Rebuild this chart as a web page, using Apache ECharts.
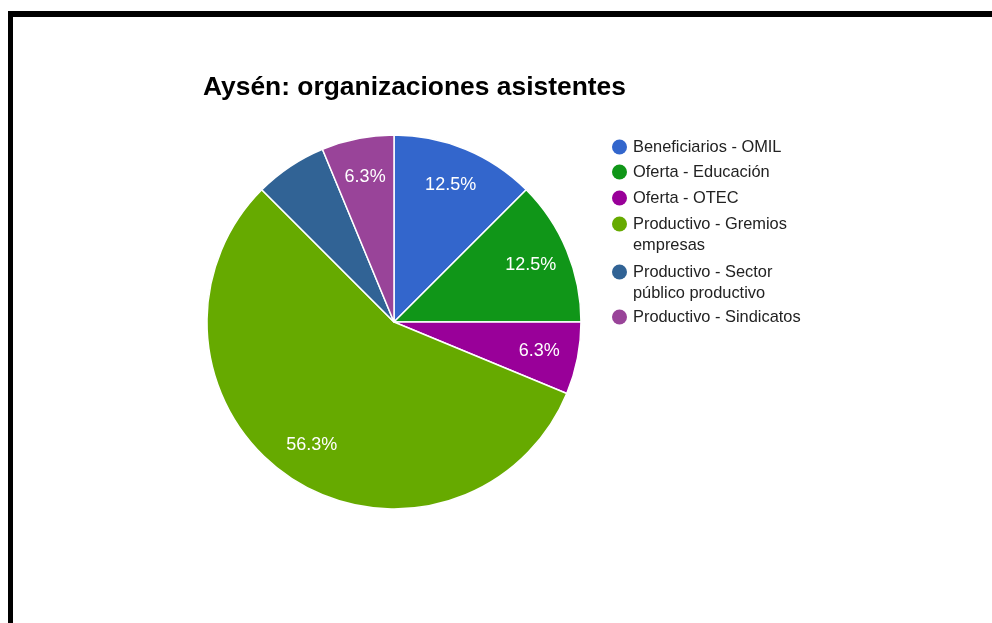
<!DOCTYPE html>
<html>
<head>
<meta charset="utf-8">
<script src="https://cdn.jsdelivr.net/npm/echarts@6/dist/echarts.min.js"></script>
<style>
  html, body { margin: 0; padding: 0; background: #fff; }
  #frame { position: absolute; left: 8px; top: 11px; width: 990px; height: 620px;
           border-top: 6px solid #000; border-left: 5px solid #000; box-sizing: border-box; }
  #chart { position: absolute; left: 0; top: 0; width: 992px; height: 623px; }
</style>
</head>
<body>
<div id="frame"></div>
<div id="chart"></div>
<script>
const titleText = 'Aysén: organizaciones asistentes';
const categories = [
  'Beneficiarios - OMIL',
  'Oferta - Educación',
  'Oferta - OTEC',
  'Productivo - Gremios empresas',
  'Productivo - Sector público productivo',
  'Productivo - Sindicatos'
];
const legendLines = [
  ['Beneficiarios - OMIL'],
  ['Oferta - Educación'],
  ['Oferta - OTEC'],
  ['Productivo - Gremios', 'empresas'],
  ['Productivo - Sector', 'público productivo'],
  ['Productivo - Sindicatos']
];
const counts = [2, 2, 1, 9, 1, 1];
const colors = ['#3366cc', '#109618', '#990099', '#66aa00', '#316395', '#994499'];
const showLabel = [true, true, true, true, false, true];

const total = counts.reduce((a, b) => a + b, 0);
const FONT = 'Arial, "Liberation Sans", sans-serif';

// legend layout (icon centre of the first line of each entry)
const legendCentres = [144, 169, 195, 221, 269, 314];
const LINE_H = 21;
const tallCirclePath = 'path://M0,7.5A7.5,7.5,0,1,1,15,7.5A7.5,7.5,0,1,1,0,7.5ZM7.5,36L7.5,36';

const legends = categories.map((name, i) => {
  const multi = legendLines[i].length > 1;
  return {
    orient: 'vertical',
    left: 612,
    top: legendCentres[i] - 7.5,
    padding: 0,
    itemWidth: 17,
    itemHeight: multi ? 36 : 15,
    icon: multi ? tallCirclePath : 'circle',
    selectedMode: false,
    itemStyle: { borderWidth: 0 },
    data: [name],
    formatter: () => legendLines[i].join('\n'),
    textStyle: { fontFamily: FONT, fontSize: 16.4, color: '#222', lineHeight: LINE_H }
  };
});

const chart = echarts.init(document.getElementById('chart'), null, { renderer: 'canvas' });
chart.setOption({
  backgroundColor: 'transparent',
  animation: false,
  color: colors,
  title: {
    text: titleText,
    left: 203,
    top: 75,
    padding: 0,
    textStyle: { fontFamily: FONT, fontSize: 26.4, fontWeight: 'bold', color: '#000' }
  },
  legend: legends,
  series: [
    {
      type: 'pie',
      center: [394, 322],
      radius: [0, 187],
      startAngle: 90,
      clockwise: true,
      label: { show: false },
      labelLine: { show: false },
      emphasis: { disabled: true },
      itemStyle: { borderColor: '#fff', borderWidth: 1.5 },
      data: categories.map((name, i) => ({ name, value: counts[i] }))
    },
    {
      type: 'pie',
      center: [394, 322],
      radius: [104, 186],
      startAngle: 90,
      clockwise: true,
      silent: true,
      legendHoverLink: false,
      emphasis: { disabled: true },
      itemStyle: { color: 'rgba(0,0,0,0)', borderWidth: 0 },
      labelLine: { show: false },
      label: {
        show: true,
        position: 'inside',
        fontFamily: FONT,
        fontSize: 18,
        color: '#fff',
        formatter: p => (p.value / total * 100).toFixed(1) + '%'
      },
      data: categories.map((name, i) => ({ name, value: counts[i], label: { show: showLabel[i] } }))
    }
  ]
});
</script>
</body>
</html>
